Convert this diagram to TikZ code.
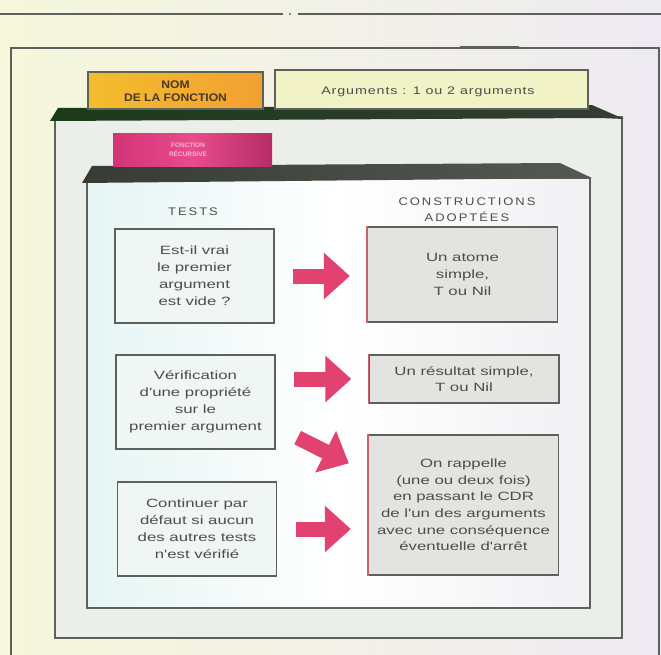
\documentclass[tikz,border=0pt]{standalone}
\usepackage{fontspec}
\setmainfont{Liberation Sans}
\usetikzlibrary{arrows.meta,calc}

\definecolor{pagea}{HTML}{F6F7DC}
\definecolor{pageb}{HTML}{EEEAF2}
\definecolor{rulecol}{HTML}{5C625A}
\definecolor{panelcol}{HTML}{ECEEEA}
\definecolor{innerl}{HTML}{E6F5F4}
\definecolor{innerr}{HTML}{F1F1F4}
\definecolor{innercol}{HTML}{F0F6F4}
\definecolor{bandcol}{HTML}{363C34}
\definecolor{textcol}{HTML}{4A4F4A}
\definecolor{boxgrey}{HTML}{E3E4E1}
\definecolor{arrowcol}{HTML}{E2426F}
\definecolor{tabpink}{HTML}{E5387F}
\definecolor{taborange}{HTML}{F0B236}
\definecolor{tabyellow}{HTML}{F1F3C6}
\definecolor{edgered}{HTML}{C8606E}

\newfontfamily\widefont[FakeStretch=1.4]{Liberation Sans}
\newfontfamily\headfont[FakeStretch=1.18,LetterSpace=18]{Liberation Sans}
\newfontfamily\argfont[FakeStretch=1.3,LetterSpace=8]{Liberation Sans}
\newfontfamily\tabfont[FakeStretch=1.1]{Liberation Sans}

\tikzset{
  frameline/.style={draw=rulecol, line width=1.3pt},
  testbox/.style={draw=rulecol, line width=1.3pt, fill=innercol,
    minimum width=159pt, minimum height=94pt, inner sep=0pt,
    align=center, text=textcol, font=\widefont\fontsize{12}{17}\selectfont},
  resultbox/.style={draw=rulecol, line width=1.3pt, fill=boxgrey,
    minimum width=190pt, inner sep=0pt,
    align=center, text=textcol, font=\widefont\fontsize{12}{16.6}\selectfont},
  header/.style={align=center, text=textcol,
    font=\headfont\fontsize{11}{16}\selectfont},
  bigarrow/.style={draw=arrowcol, line width=15pt,
    -{Triangle[width=45pt,length=26pt]}, arrowcol},
}

\begin{document}
\begin{tikzpicture}[x=1pt,y=-1pt]
\useasboundingbox (0,0) rectangle (661,655);
\shade[left color=pagea, right color=pageb] (0,0) rectangle (661,655);

% rule across the top of the page
\draw[rulecol, line width=1.2pt] (0,14) -- (283,14);
\draw[rulecol, line width=1.2pt] (298,14) -- (661,14);
\fill[rulecol] (290,14) circle (1.2pt);

% outer frame
\draw[frameline] (11,655) -- (11,48) -- (659,48) -- (659,655);
\draw[rulecol, line width=2.4pt] (460,47) -- (519,47);

% function panel with its shadowed top edge
\fill[panelcol] (55,117) rectangle (622,638);
\draw[frameline] (55,117) rectangle (622,638);
\shade[left color=bandcol!80!green!60!black, right color=bandcol]
  (50,121) -- (58,108) -- (592,105) -- (624,119) -- (600,118) -- cycle;

% name tab and argument tab
\shade[left color=taborange!85!yellow, right color=taborange!90!red]
  (88,72) rectangle (263,109);
\draw[rulecol, line width=1.2pt] (88,72) rectangle (263,109);
\node[align=center, text=bandcol!90!red,
      font=\tabfont\bfseries\fontsize{11}{12.5}\selectfont]
  (nomtab) at (175.5,91) {NOM\\DE LA FONCTION};
\fill[tabyellow] (275,70) rectangle (588,109);
\draw[rulecol, line width=1.2pt] (275,70) rectangle (588,109);
\node[text=textcol, font=\argfont\fontsize{11}{12}\selectfont]
  (argtab) at (428,92) {Arguments : 1 ou 2 arguments};

% inner panel with its shadowed top edge
\shade[left color=innerl, right color=innerr, middle color=white]
  (87,178) rectangle (590,608);
\draw[frameline] (87,178) rectangle (590,608);
\shade[left color=bandcol, right color=bandcol!85!white]
  (82,183) -- (92,166) -- (560,163) -- (592,178) -- cycle;

% coloured tab of the inner panel
\shade[left color=tabpink!92!black, right color=tabpink!80!black,
       middle color=tabpink!90!white]
  (113,134) rectangle (272,167);
\node[align=center, text=white, opacity=0.6,
      font=\fontsize{6.5}{9}\selectfont\bfseries]
  (typetab) at (188,150) {FONCTION\\RÉCURSIVE};

% column headings
\node[header] (htests) at (193,212) {TESTS};
\node[header] (hcons) at (467,210) {CONSTRUCTIONS\\ADOPTÉES};

% tests
\node[testbox] (L1) at (194.5,276)
  {Est-il vrai\\le premier\\argument\\est vide ?};
\node[testbox] (L2) at (195.5,402)
  {Vérification\\d'une propriété\\sur le\\premier argument};
\node[testbox] (L3) at (197,529)
  {Continuer par\\défaut si aucun\\des autres tests\\n'est vérifié};

% constructions
\node[resultbox, minimum height=95pt] (R1) at (462.5,274.5)
  {Un atome\\simple,\\T ou Nil};
\node[resultbox, minimum height=48pt] (R2) at (464,379)
  {Un résultat simple,\\T ou Nil};
\node[resultbox, minimum height=140pt] (R3) at (463.5,505)
  {On rappelle\\(une ou deux fois)\\en passant le CDR\\de l'un des arguments\\avec une conséquence\\éventuelle d'arrêt};
\foreach \b in {R1,R2,R3}
  \draw[edgered, line width=1.3pt] (\b.north west) -- (\b.south west);

% arrows from each test to its construction
\draw[bigarrow, shorten <=18pt, shorten >=17pt] (L1.east) -- (L1.east -| R1.west);
\draw[bigarrow, shorten <=18pt, shorten >=17pt] (R2.west -| L2.east) -- (R2.west);
\draw[bigarrow] ($(L2.south east)+(22,-12)$) -- ($(R3.north west)+(-19,29)$);
\draw[bigarrow, shorten <=19pt, shorten >=17pt] (L3.east) -- (L3.east -| R3.west);
\end{tikzpicture}
\end{document}
